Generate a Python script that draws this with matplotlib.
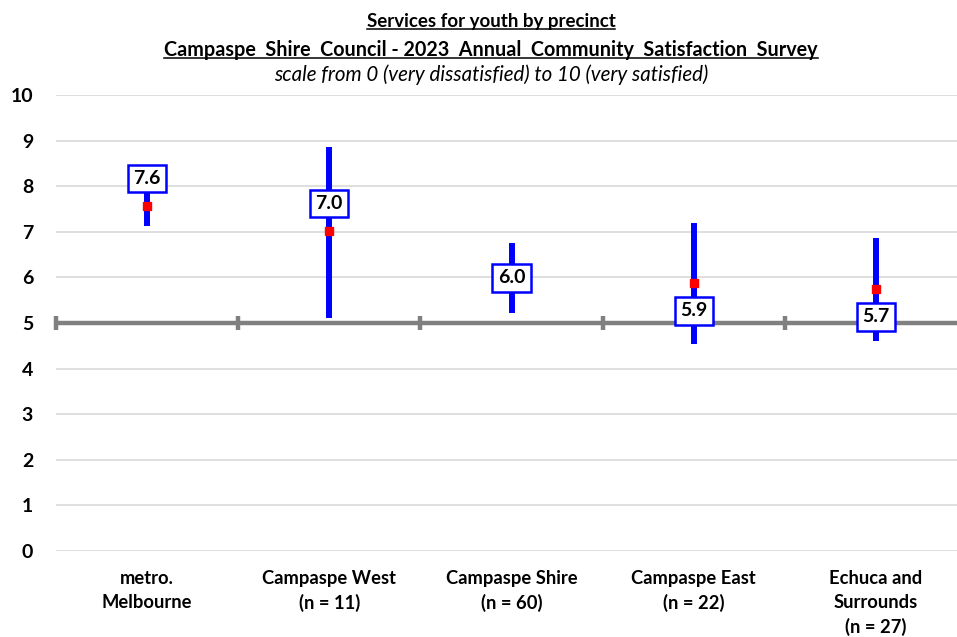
import matplotlib
matplotlib.use("Agg")
import matplotlib.pyplot as plt
from matplotlib.lines import Line2D

# Survey results: mean score and 95% confidence interval per precinct
categories = [
    "metro.\nMelbourne",
    "Campaspe West\n(n = 11)",
    "Campaspe Shire\n(n = 60)",
    "Campaspe East\n(n = 22)",
    "Echuca and\nSurrounds\n(n = 27)",
]
means = [7.57, 7.02, 5.99, 5.87, 5.74]
ci_lower = [7.13, 5.12, 5.23, 4.53, 4.61]
ci_upper = [8.01, 8.87, 6.75, 7.19, 6.86]
y_ticks = [0, 1, 2, 3, 4, 5, 6, 7, 8, 9, 10]
reference_level = 5

title_1 = "Services for youth by precinct"
title_2 = "Campaspe  Shire  Council - 2023  Annual  Community  Satisfaction  Survey"
subtitle = "scale from 0 (very dissatisfied) to 10 (very satisfied)"

# label placement relative to the mean (keeps boxes off the whiskers)
label_shift = [0.6, 0.6, 0.0, -0.6, -0.6]

BLUE = "#0000FF"
RED = "#FF0000"
GREY = "#808080"
GRID = "#D9D9D9"
FONT = "Lato"

W, H = 957, 637
fig = plt.figure(figsize=(W / 100, H / 100), dpi=100)
ax = fig.add_axes([56 / W, (H - 551) / H, 911 / W, 456 / H])

n = len(categories)
x = list(range(n))

ax.set_xlim(-0.5, n - 0.5)
ax.set_ylim(0, 10)

# horizontal gridlines (the reference level gets its own heavier line)
for t in y_ticks:
    if t != reference_level:
        ax.axhline(t, color=GRID, lw=1.2, zorder=0)
ax.axhline(reference_level, color=GREY, lw=3.2, zorder=1, solid_capstyle="butt")
ax.plot([i - 0.5 for i in range(n + 1)], [reference_level] * (n + 1),
        linestyle="none", marker="|", markersize=10, markeredgewidth=3.2,
        color=GREY, zorder=1, clip_on=False)

# confidence interval whiskers
ax.vlines(x, ci_lower, ci_upper, color=BLUE, lw=4.3, zorder=2)
# means
ax.plot(x, means, linestyle="none", marker="s", markersize=5.5,
        color=RED, zorder=3)

# value labels
for xi, m, s in zip(x, means, label_shift):
    ax.text(xi, m + s, f"{m:.1f}", ha="center", va="center",
            fontsize=14, fontweight="bold", family=FONT, color="black",
            zorder=5,
            bbox=dict(boxstyle="square,pad=0.28", facecolor="white",
                      edgecolor=BLUE, linewidth=1.8))

ax.set_yticks(y_ticks)
ax.set_yticklabels([str(t) for t in y_ticks], fontsize=14,
                   fontweight="bold", family=FONT)
ax.set_xticks(x)
ax.set_xticklabels(categories, fontsize=13.2, fontweight="bold", family=FONT,
                   linespacing=1.5, va="top")
ax.tick_params(axis="both", length=0)
ax.tick_params(axis="y", pad=16.5)
ax.tick_params(axis="x", pad=13.5)
for sp in ax.spines.values():
    sp.set_visible(False)

# titles
cx = 491 / W
t1 = fig.text(cx, 1 - 27 / H, title_1, ha="center", va="baseline",
              fontsize=13.5, fontweight="bold", family=FONT)
t2 = fig.text(cx, 1 - 56 / H, title_2, ha="center", va="baseline",
              fontsize=14.2, fontweight="bold", family=FONT)
fig.text(cx, 1 - 75 / H, subtitle, ha="center", va="center",
         fontsize=14.8, style="italic", family=FONT)

fig.canvas.draw()
renderer = fig.canvas.get_renderer()
for t, base in ((t1, 27), (t2, 56)):
    bb = t.get_window_extent(renderer)
    yy = 1 - (base + 2) / H
    fig.add_artist(Line2D([bb.x0 / W, bb.x1 / W], [yy, yy],
                          transform=fig.transFigure, color="black", lw=1.1))

fig.savefig("out.png", dpi=100, facecolor="white")
